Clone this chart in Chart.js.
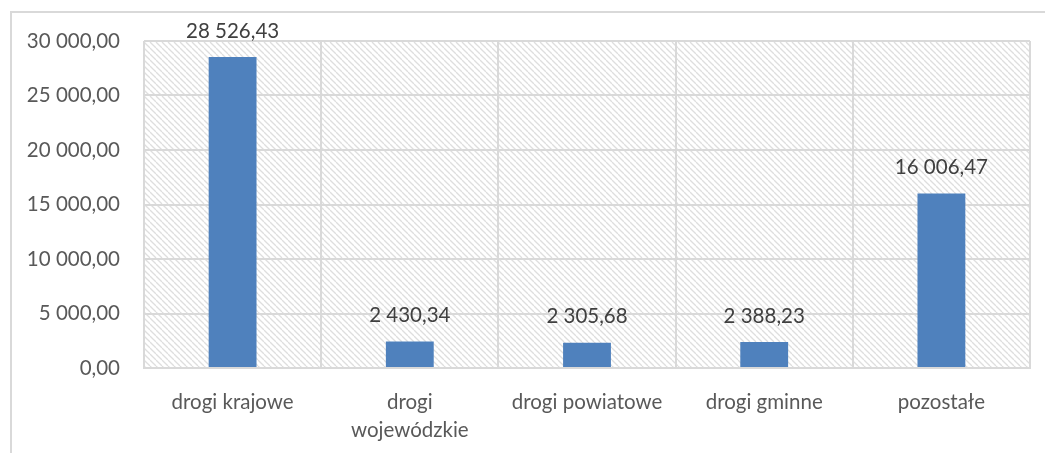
<!DOCTYPE html>
<html>
<head>
<meta charset="utf-8">
<script src="https://cdn.jsdelivr.net/npm/chart.js@4"></script>
<style>
  html, body { margin: 0; padding: 0; background: #fff; }
  #wrap { position: relative; width: 1045px; height: 453px; overflow: hidden; }
  #frame { position: absolute; left: 10px; top: 11px; width: 1100px; height: 500px; border: 2px solid #d9d9d9; box-sizing: border-box; }
  #chart { position: absolute; left: 0; top: 0; }
</style>
</head>
<body>
<div id="wrap">
  <div id="frame"></div>
  <canvas id="chart" width="1045" height="453"></canvas>
</div>
<script>
// dane
const categories = ['drogi krajowe', ['drogi', 'wojewódzkie'], 'drogi powiatowe', 'drogi gminne', 'pozostałe'];
const values = [28526.43, 2430.34, 2305.68, 2388.23, 16006.47];
const yTicks = [0, 5000, 10000, 15000, 20000, 25000, 30000];

function fmt(n) {
  const parts = n.toFixed(2).split('.');
  const int = parts[0].replace(/\B(?=(\d{3})+(?!\d))/g, ' ');
  return int + ',' + parts[1];
}

// ukośne kreskowanie tła
function makeHatch() {
  const c = document.createElement('canvas');
  c.width = 6; c.height = 6;
  const g = c.getContext('2d');
  g.strokeStyle = '#dedede';
  g.lineWidth = 1.3;
  [-6, 0, 6].forEach(o => {
    g.beginPath();
    g.moveTo(o, 0);
    g.lineTo(o + 6, 6);
    g.stroke();
  });
  return g.createPattern(c, 'repeat');
}

const hatchBg = {
  id: 'hatchBg',
  beforeDraw(chart) {
    const a = chart.chartArea;
    const ctx = chart.ctx;
    ctx.save();
    ctx.fillStyle = makeHatch();
    ctx.fillRect(a.left, a.top, a.right - a.left, a.bottom - a.top);
    ctx.restore();
  }
};

const valueLabels = {
  id: 'valueLabels',
  afterDatasetsDraw(chart) {
    const ctx = chart.ctx;
    const meta = chart.getDatasetMeta(0);
    ctx.save();
    ctx.font = '20.5px Lato';
    ctx.fillStyle = '#404040';
    ctx.textAlign = 'center';
    ctx.textBaseline = 'middle';
    meta.data.forEach((bar, i) => {
      ctx.fillText(fmt(values[i]), bar.x, bar.y - 26);
    });
    ctx.restore();
  }
};

new Chart(document.getElementById('chart'), {
  type: 'bar',
  data: {
    labels: categories,
    datasets: [{
      data: values,
      backgroundColor: '#4f81bd',
      borderWidth: 0,
      barPercentage: 0.27,
      categoryPercentage: 1.0
    }]
  },
  options: {
    responsive: false,
    animation: false,
    layout: { padding: { top: 41, right: 15, left: 0, bottom: 0 } },
    plugins: { legend: { display: false }, tooltip: { enabled: false } },
    scales: {
      y: {
        min: 0, max: 30000,
        afterBuildTicks: s => { s.ticks = yTicks.map(v => ({ value: v })); },
        afterFit: s => { s.width = 144; },
        grid: { color: '#d9d9d9', lineWidth: 2, drawTicks: false },
        border: { display: false },
        ticks: {
          padding: 24,
          color: '#595959',
          font: { family: 'Lato', size: 20.5 },
          callback: v => fmt(v)
        }
      },
      x: {
        afterFit: s => { s.height = 85; },
        grid: { color: '#d9d9d9', lineWidth: 2, drawTicks: false, offset: true },
        border: { display: true, color: '#d9d9d9', width: 2 },
        ticks: {
          padding: 20,
          color: '#595959',
          maxRotation: 0,
          autoSkip: false,
          font: { family: 'Lato', size: 20.5, lineHeight: 1.37 }
        }
      }
    }
  },
  plugins: [hatchBg, valueLabels]
});
</script>
</body>
</html>
